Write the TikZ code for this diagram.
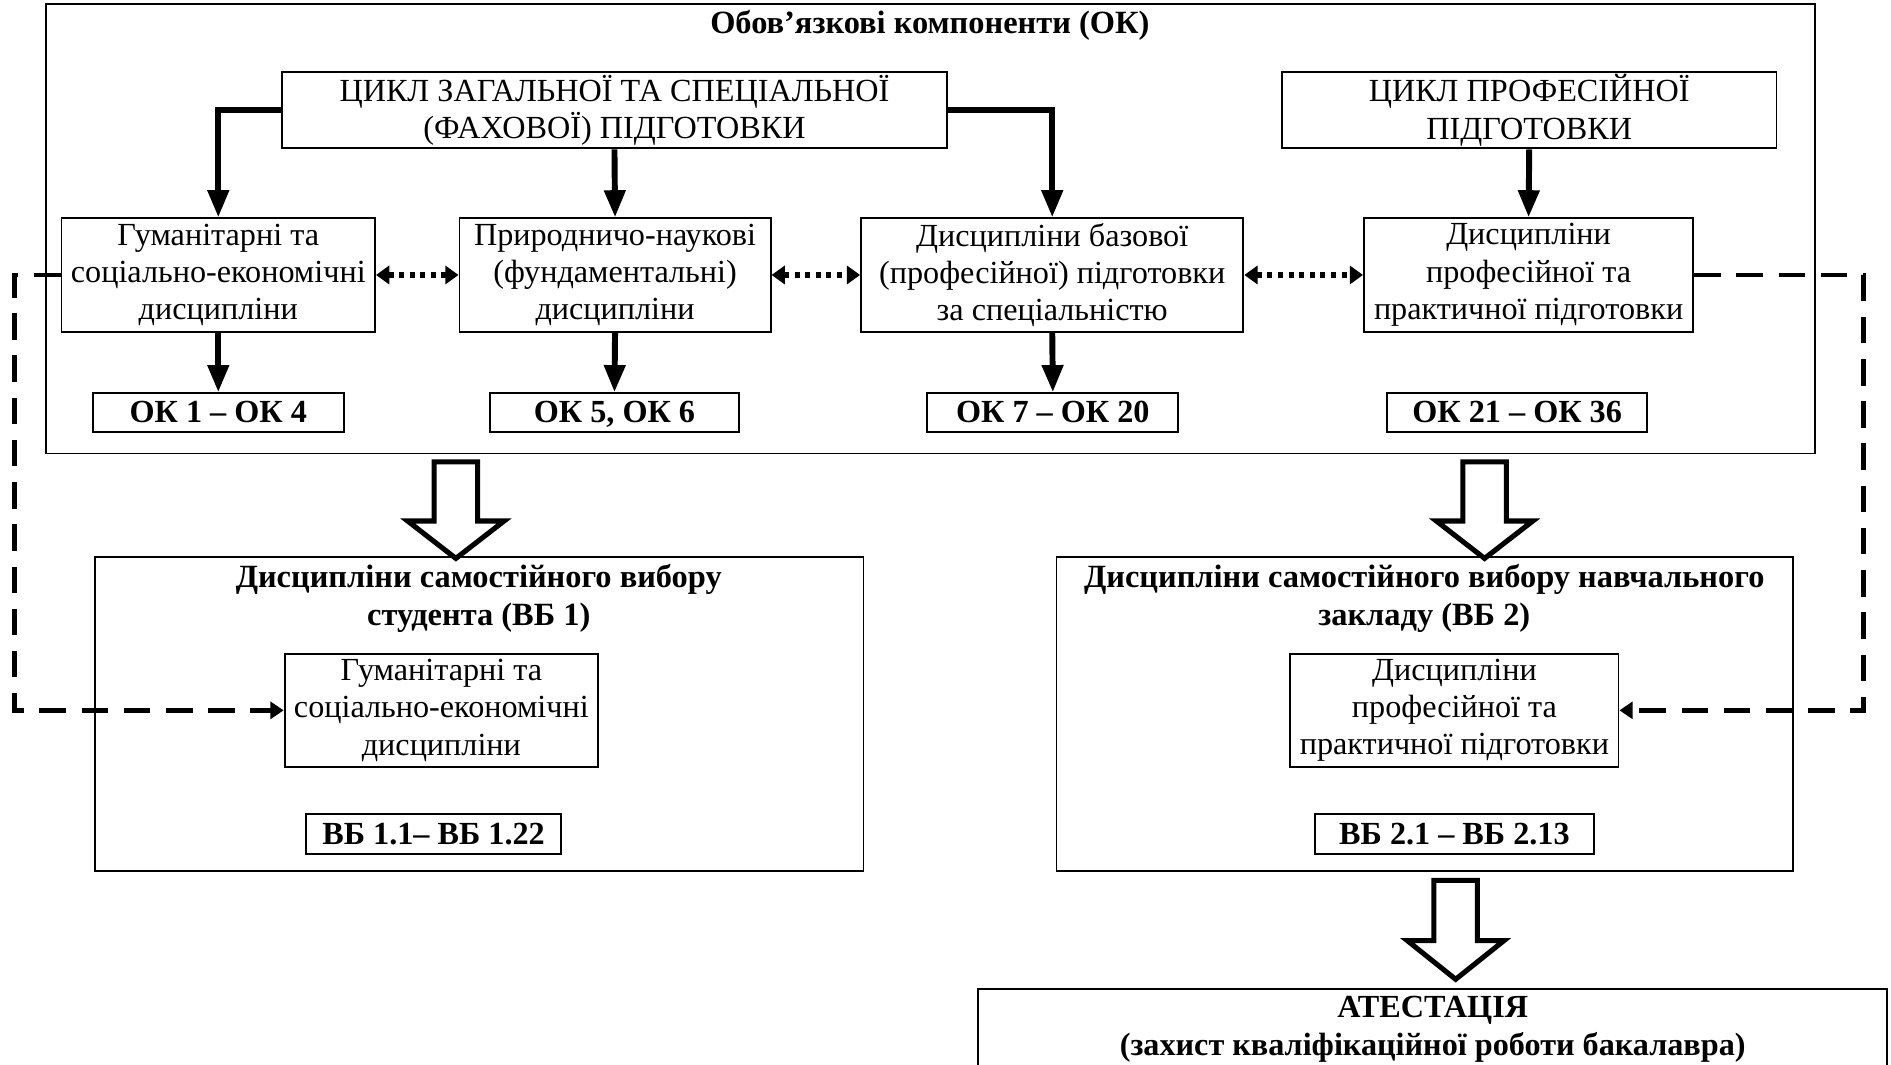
\documentclass[tikz,border=0pt]{standalone}
\usepackage{fontspec}
\setmainfont{Liberation Serif}
\usetikzlibrary{arrows.meta,calc}

\tikzset{
 box/.style={draw, line width=0.9pt, align=center, inner sep=0pt, font=\fontsize{15.2}{17.6}\selectfont},
 codebox/.style={box, font=\bfseries\fontsize{15.2}{17.6}\selectfont},
 codeline/.style={codebox, text height=12pt, text depth=2.2pt},
 titletext/.style={align=center, inner sep=0pt, font=\bfseries\fontsize{15.3}{18.0}\selectfont},
 thickarrow/.style={line width=2.8pt, -{Triangle[length=0.45cm,width=0.34cm]}},
 dotarrow/.style={line width=2.4pt, dash pattern=on 2.4pt off 2.6pt, {Triangle[length=0.22cm,width=0.3cm]}-{Triangle[length=0.22cm,width=0.3cm]}},
 dasharrow/.style={line width=2.3pt, dash pattern=on 0.44cm off 0.26cm, -{Triangle[length=0.22cm,width=0.28cm]}},
 hollow/.style={draw, line width=2.4pt, fill=white, line join=miter},
}

\newcommand\mybox[7][box]{\node[#1, minimum width={(#5-#3)*0.02cm}, minimum height={(#6-#4)*0.02cm}] (#2) at ({(#3+#5)/2},{(#4+#6)/2}) {#7};}
\newcommand\blockarr[4]{\draw[hollow] ({#1-18},#2) -- ({#1+18},#2) -- ({#1+18},#4) -- ({#1+40},#4) -- (#1,#3) -- ({#1-40},#4) -- ({#1-18},#4) -- cycle;}

\begin{document}
\begin{tikzpicture}[x=0.02cm,y=-0.02cm]
\useasboundingbox (0,0) rectangle (1568,883);

% outer frame of mandatory components
\mybox{ok}{38}{3}{1505}{376}{}
\node[titletext] (okt) at (771,21) {Обов’язкові компоненти (ОК)};

\mybox{c1}{234}{60}{785}{123}{ЦИКЛ ЗАГАЛЬНОЇ ТА СПЕЦІАЛЬНОЇ\\(ФАХОВОЇ) ПІДГОТОВКИ}
\mybox{c2}{1063}{60}{1473}{123}{ЦИКЛ ПРОФЕСІЙНОЇ\\ПІДГОТОВКИ}

\mybox{g}{51}{181}{311}{275}{Гуманітарні та\\соціально-економічні\\дисципліни}
\mybox{p}{381}{181}{639}{275}{Природничо-наукові\\(фундаментальні)\\дисципліни}
\mybox{d}{714}{181}{1031}{275}{Дисципліни базової\\(професійної) підготовки\\за спеціальністю}
\mybox{dp}{1131}{181}{1404}{275}{Дисципліни\\професійної та\\практичної підготовки}

\mybox[codeline]{k1}{77}{326}{285}{358}{ОК 1 – ОК 4}
\mybox[codeline]{k2}{406}{326}{613}{358}{ОК 5, ОК 6}
\mybox[codeline]{k3}{769}{326}{977}{358}{ОК 7 – ОК 20}
\mybox[codeline]{k4}{1150}{326}{1366}{358}{ОК 21 – ОК 36}

% elective blocks
\mybox{vb1}{79}{462}{716}{722}{}
\node[titletext] (vb1t) at (397,496) {Дисципліни самостійного вибору\\студента (ВБ 1)};
\mybox{vb1i}{236}{542}{496}{636}{Гуманітарні та\\соціально-економічні\\дисципліни}
\mybox[codeline]{vb1k}{254}{675}{465}{708}{ВБ 1.1– ВБ 1.22}

\mybox{vb2}{876}{462}{1487}{722}{}
\node[titletext] (vb2t) at (1181,496) {Дисципліни самостійного вибору навчального\\закладу (ВБ 2)};
\mybox{vb2i}{1070}{542}{1342}{636}{Дисципліни\\професійної та\\практичної підготовки}
\mybox[codeline]{vb2k}{1090}{675}{1322}{708}{ВБ 2.1 – ВБ 2.13}

\mybox[codebox]{att}{811}{820}{1565}{887}{АТЕСТАЦІЯ\\(захист кваліфікаційної роботи бакалавра)}

% thick arrows
\draw[thickarrow] (c1.west) -| (g.north);
\draw[thickarrow] (c1.south) -- (p.north);
\draw[thickarrow] (c1.east) -| (d.north);
\draw[thickarrow] (c2.south) -- (dp.north);
\draw[thickarrow] (g.south) -- (k1.north);
\draw[thickarrow] (p.south) -- (k2.north);
\draw[thickarrow] (d.south) -- (k3.north);

% dotted links
\draw[dotarrow] (g.east) -- (p.west);
\draw[dotarrow] (p.east) -- (d.west);
\draw[dotarrow] (d.east) -- (dp.west);

% dashed links
\coordinate (lt) at (12,228);
\coordinate (rt) at (1545,228);
\draw[dasharrow] (g.west) -- (lt) |- (vb1i.west);
\draw[dasharrow] (dp.east) -- (rt) |- (vb2i.east);

% block arrows
\blockarr{378}{383}{463}{432}
\blockarr{1231}{383}{463}{432}
\blockarr{1207}{730}{812}{780}
\end{tikzpicture}
\end{document}
